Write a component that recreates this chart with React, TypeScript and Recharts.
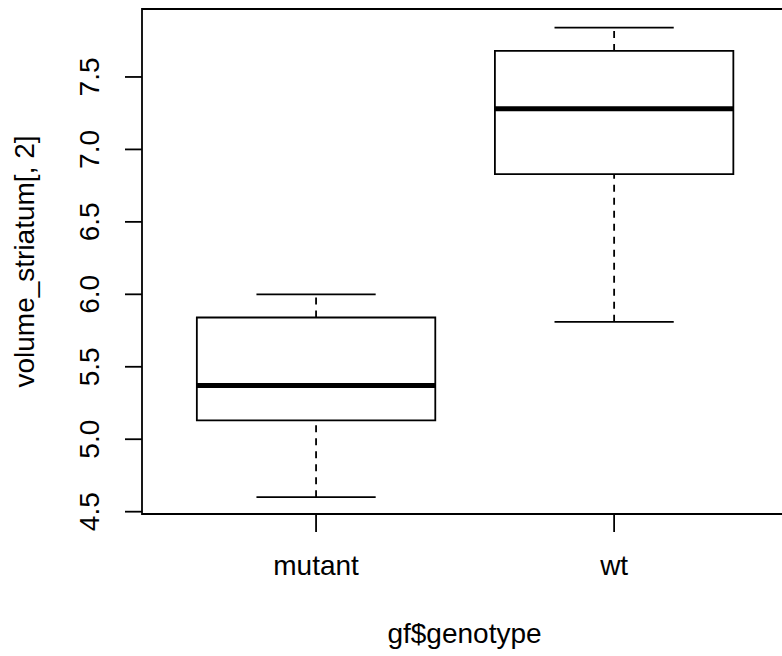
import React from "react";
import {
  ComposedChart,
  XAxis,
  YAxis,
  Scatter,
  ReferenceArea,
  ReferenceLine,
  Label,
} from "recharts";

// box statistics per genotype
const groups = ["mutant", "wt"];
const lowerWhisker = [4.6, 5.81];
const q1 = [5.13, 6.83];
const median = [5.37, 7.28];
const q3 = [5.84, 7.68];
const upperWhisker = [6.0, 7.84];
const yTicks = [4.5, 5.0, 5.5, 6.0, 6.5, 7.0, 7.5];

const FONT = "'Liberation Sans', Arial, Helvetica, sans-serif";
const X_DOMAIN: [number, number] = [0.416, 2.58];
const Y_DOMAIN: [number, number] = [4.484, 7.969];
const BOX_W = 0.8;
const CAP_W = 0.4;

const points = groups.map((g, i) => ({ x: i + 1, y: median[i], name: g }));

function YTick(props: any) {
  const { y, payload } = props;
  return (
    <text
      x={99}
      y={y}
      transform={`rotate(-90, 99, ${y})`}
      textAnchor="middle"
      fontFamily={FONT}
      fontSize={28}
      fill="#000"
    >
      {payload.value.toFixed(1)}
    </text>
  );
}

function XTick(props: any) {
  const { x, y, payload } = props;
  return (
    <text
      x={x}
      y={y}
      dy={43}
      textAnchor="middle"
      fontFamily={FONT}
      fontSize={28}
      fill="#000"
    >
      {groups[payload.value - 1]}
    </text>
  );
}

export default function App() {
  const line = { stroke: "#000", strokeWidth: 1.8 };
  return (
    <div style={{ position: "absolute", left: 0, top: 0, background: "#fff" }}>
      <ComposedChart
        width={782}
        height={656}
        data={points}
        margin={{ top: 9, right: -5, bottom: 0, left: 0 }}
      >
        <XAxis
          dataKey="x"
          type="number"
          domain={X_DOMAIN}
          ticks={[1, 2]}
          allowDataOverflow
          height={142}
          axisLine={false}
          tickSize={18}
          tickMargin={0}
          tickLine={line}
          tick={<XTick />}
        >
          <Label
            content={(p: any) => (
              <text
                x={p.viewBox.x + p.viewBox.width / 2}
                y={643}
                textAnchor="middle"
                fontFamily={FONT}
                fontSize={28}
                fill="#000"
              >
                gf$genotype
              </text>
            )}
          />
        </XAxis>
        <YAxis
          dataKey="y"
          type="number"
          domain={Y_DOMAIN}
          ticks={yTicks}
          allowDataOverflow
          width={142}
          axisLine={false}
          tickSize={17}
          tickMargin={0}
          tickLine={line}
          tick={<YTick />}
        >
          <Label
            content={(p: any) => {
              const cy = p.viewBox.y + p.viewBox.height / 2;
              return (
                <text
                  x={34}
                  y={cy}
                  transform={`rotate(-90, 34, ${cy})`}
                  textAnchor="middle"
                  fontFamily={FONT}
                  fontSize={28}
                  fill="#000"
                >
                  volume_striatum[, 2]
                </text>
              );
            }}
          />
        </YAxis>

        {/* plot frame */}
        <ReferenceArea
          x1={X_DOMAIN[0]}
          x2={X_DOMAIN[1]}
          y1={Y_DOMAIN[0]}
          y2={Y_DOMAIN[1]}
          fill="none"
          fillOpacity={0}
          {...line}
        />

        {groups.map((g, i) => {
          const c = i + 1;
          return (
            <React.Fragment key={g}>
              <ReferenceLine
                segment={[
                  { x: c, y: lowerWhisker[i] },
                  { x: c, y: q1[i] },
                ]}
                strokeDasharray="7 6"
                {...line}
              />
              <ReferenceLine
                segment={[
                  { x: c, y: q3[i] },
                  { x: c, y: upperWhisker[i] },
                ]}
                strokeDasharray="7 6"
                {...line}
              />
              <ReferenceLine
                segment={[
                  { x: c - CAP_W / 2, y: lowerWhisker[i] },
                  { x: c + CAP_W / 2, y: lowerWhisker[i] },
                ]}
                {...line}
              />
              <ReferenceLine
                segment={[
                  { x: c - CAP_W / 2, y: upperWhisker[i] },
                  { x: c + CAP_W / 2, y: upperWhisker[i] },
                ]}
                {...line}
              />
              <ReferenceArea
                x1={c - BOX_W / 2}
                x2={c + BOX_W / 2}
                y1={q1[i]}
                y2={q3[i]}
                fill="#fff"
                fillOpacity={1}
                {...line}
              />
              <ReferenceLine
                segment={[
                  { x: c - BOX_W / 2, y: median[i] },
                  { x: c + BOX_W / 2, y: median[i] },
                ]}
                stroke="#000"
                strokeWidth={5}
              />
            </React.Fragment>
          );
        })}

        <Scatter dataKey="y" isAnimationActive={false} shape={() => <g />} />
      </ComposedChart>
    </div>
  );
}
